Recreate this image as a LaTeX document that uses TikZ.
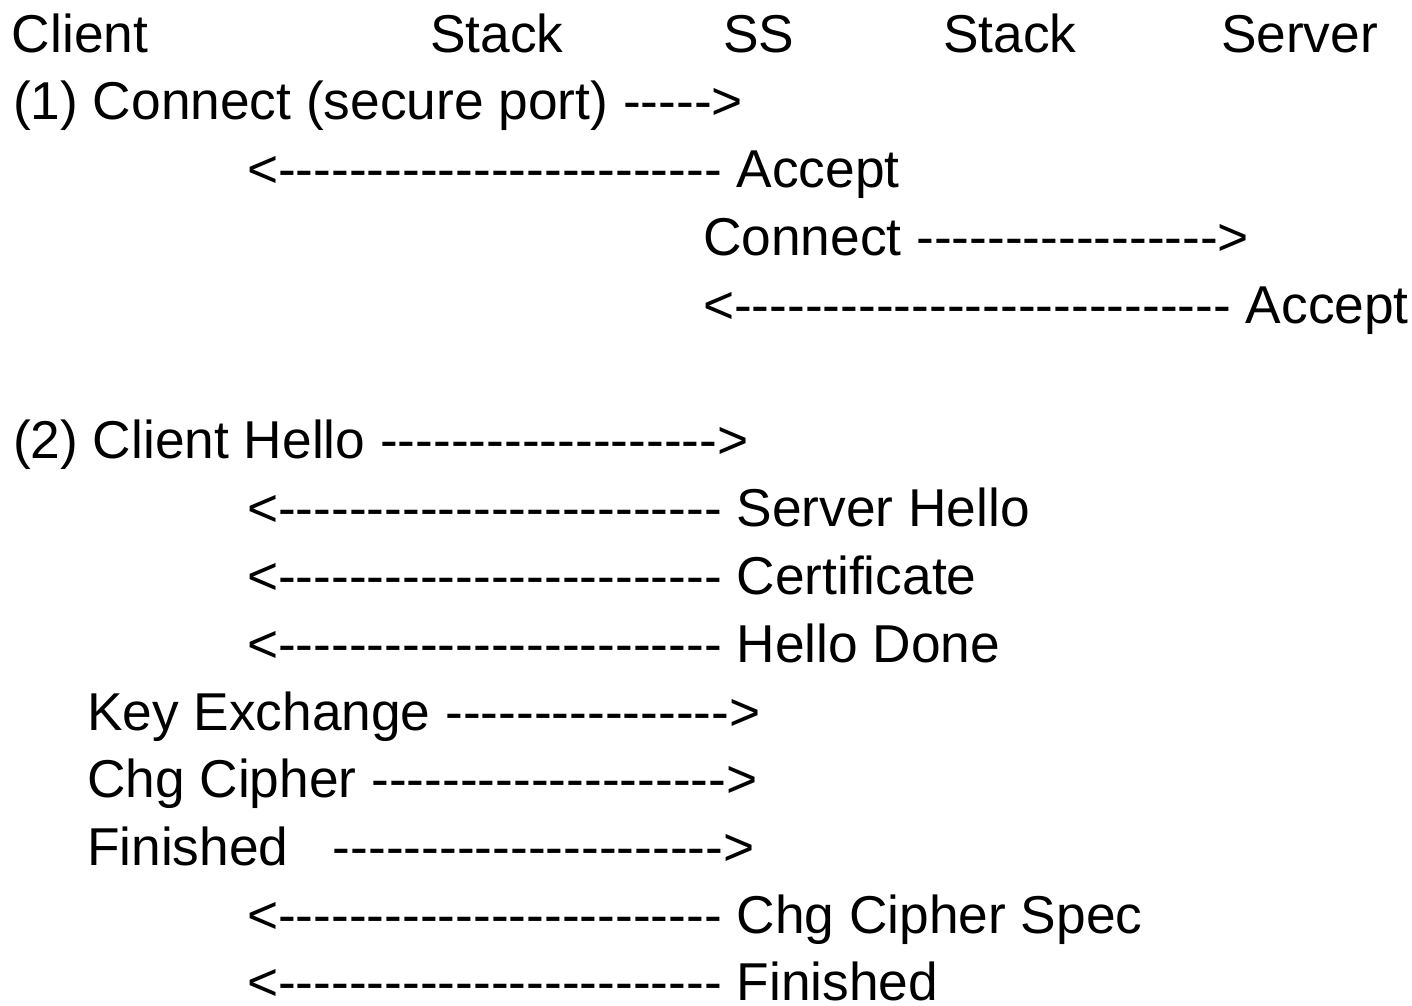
\documentclass[tikz,border=0pt]{standalone}
\usepackage{fontspec}
\newfontfamily\hv{Liberation Sans}[Ligatures=TeXOff]
\begin{document}
\begin{tikzpicture}[x=1pt,y=1pt,
  txt/.style={anchor=base west,inner sep=0pt,outer sep=0pt,font=\hv\fontsize{53.3}{68}\selectfont}]
\useasboundingbox (0,0) rectangle (1412,-1005);
% header row
\node[txt] (hclient) at (12,-52) {Client};
\node[txt] (hstack1) at (430,-52) {Stack};
\node[txt] (hss) at (723,-52) {SS};
\node[txt] (hstack2) at (943,-52) {Stack};
\node[txt] (hserver) at (1221,-52) {Server};
% phase 1
\node[txt] (l1) at (13,-119.8) {(1) Connect (secure port) ----->};
\node[txt] (l2) at (247,-187.6) {<------------------------- Accept};
\node[txt] (l3) at (703,-255.4) {Connect ----------------->};
\node[txt] (l4) at (703,-323.2) {<---------------------------- Accept};
% phase 2
\node[txt] (l6) at (13,-458.8) {(2) Client Hello ------------------->};
\node[txt] (l7) at (247,-526.6) {<------------------------- Server Hello};
\node[txt] (l8) at (247,-594.4) {<------------------------- Certificate};
\node[txt] (l9) at (247,-662.2) {<------------------------- Hello Done};
\node[txt] (l10) at (87,-730) {Key Exchange ---------------->};
\node[txt] (l11) at (87,-797.8) {Chg Cipher -------------------->};
\node[txt] (l12) at (87,-865.6) {Finished\ \ \ ---------------------->};
\node[txt] (l13) at (247,-933.4) {<------------------------- Chg Cipher Spec};
\node[txt] (l14) at (247,-1000) {<------------------------- Finished};
\end{tikzpicture}
\end{document}
